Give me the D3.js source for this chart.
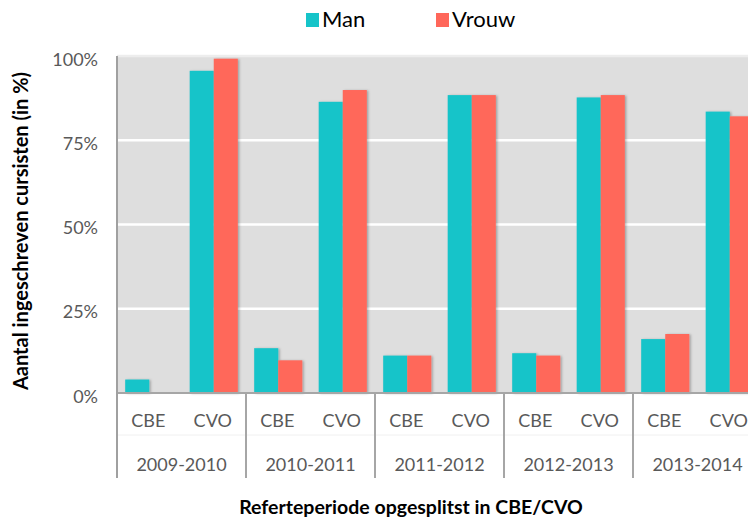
<!DOCTYPE html>
<html><head><meta charset="utf-8">
<script src="https://cdn.jsdelivr.net/npm/d3@7"></script>
<style>body{margin:0;background:#fff}svg{display:block}</style>
</head><body>
<svg id="c" width="748" height="523"></svg>
<script>
const periods = ["2009-2010","2010-2011","2011-2012","2012-2013","2013-2014"];
const types = ["CBE","CVO"];
const seriesNames = ["Man","Vrouw"];
// values in %, order: period x type
const manValues   = [4, 95.6, 13.3, 86.4, 11.1, 88.4, 11.8, 87.7, 16.0, 83.5];
const vrouwValues = [0, 99.2, 9.7, 89.9, 11.1, 88.4, 11.1, 88.4, 17.5, 82.1];
const yTicks = [0, 25, 50, 75, 100];
const colors = ["#16C4C9", "#FF675A"];

(function(){
const svg = d3.select("#c");
const font = "Lato, 'Open Sans', sans-serif";
const pLeft = 117, pRight = 762, pTop = 56, pBottom = 393;
const labelBottom = 478;

const defs = svg.append("defs");
const f = defs.append("filter").attr("id","sh").attr("x","-20%").attr("y","-20%").attr("width","150%").attr("height","150%");
f.append("feDropShadow").attr("dx",1.5).attr("dy",0.5).attr("stdDeviation",1.2).attr("flood-color","#000").attr("flood-opacity",0.28);

const y = d3.scaleLinear().domain([0,100]).range([pBottom, pTop]);
const x0 = d3.scaleBand().domain(periods).range([pLeft, pRight]).padding(0);
const x1 = d3.scaleBand().domain(types).range([0, x0.bandwidth()]).padding(0);
const x2 = d3.scaleBand().domain(seriesNames).range([0, x1.bandwidth()]).paddingInner(0).paddingOuter(0.34);

svg.append("rect").attr("x", pLeft).attr("y", pTop).attr("width", pRight-pLeft).attr("height", pBottom-pTop).attr("fill", "#DEDEDE");

svg.append("g").selectAll("line").data(yTicks.filter(d=>d>0)).join("line")
  .attr("x1", pLeft).attr("x2", pRight).attr("y1", d=>y(d)).attr("y2", d=>y(d))
  .attr("stroke", d => d===100 ? "#EDEDED" : "#FFFFFF").attr("stroke-width", 2.5);

const data = [];
periods.forEach((p,i)=>types.forEach((t,j)=>{
  data.push({p,t,s:"Man",v:manValues[i*2+j]});
  data.push({p,t,s:"Vrouw",v:vrouwValues[i*2+j]});
}));
svg.append("g").attr("filter","url(#sh)").selectAll("rect").data(data.filter(d=>d.v>0)).join("rect")
  .attr("x", d=>x0(d.p)+x1(d.t)+x2(d.s))
  .attr("width", x2.bandwidth())
  .attr("y", d=>y(d.v))
  .attr("height", d=>pBottom-y(d.v))
  .attr("fill", d=>colors[seriesNames.indexOf(d.s)]);

const yAxis = d3.axisLeft(y).tickValues(yTicks).tickFormat(d=>d+"%").tickSize(0).tickPadding(19);
const ga = svg.append("g").attr("transform",`translate(${pLeft},0)`).call(yAxis);
ga.select(".domain").remove();
ga.selectAll("text").attr("font-family",font).attr("font-size",18).attr("fill","#595959").attr("dy","0.5em");

svg.append("line").attr("x1",pLeft).attr("x2",pRight).attr("y1",435).attr("y2",435).attr("stroke","#F0F0F0").attr("stroke-width",1);

svg.append("line").attr("x1",pLeft).attr("x2",pRight).attr("y1",pBottom).attr("y2",pBottom).attr("stroke","#A6A6A6").attr("stroke-width",2);
svg.append("line").attr("x1",pLeft).attr("x2",pLeft).attr("y1",pTop).attr("y2",labelBottom).attr("stroke","#A0A0A0").attr("stroke-width",2);
svg.append("g").selectAll("line").data(periods.slice(1)).join("line")
  .attr("x1",d=>x0(d)).attr("x2",d=>x0(d)).attr("y1",pBottom).attr("y2",labelBottom)
  .attr("stroke","#A6A6A6").attr("stroke-width",2);

const catLabels = [];
periods.forEach(p=>types.forEach(t=>catLabels.push({p,t})));
svg.append("g").selectAll("text").data(catLabels).join("text")
  .attr("x", d=>x0(d.p)+x1(d.t)+x1.bandwidth()/2 - 1).attr("y", 427)
  .attr("text-anchor","middle").attr("font-family",font).attr("font-size",18).attr("fill","#595959")
  .text(d=>d.t);
svg.append("g").selectAll("text").data(periods).join("text")
  .attr("x", d=>x0(d)+x0.bandwidth()/2).attr("y", 471)
  .attr("text-anchor","middle").attr("font-family",font).attr("font-size",18).attr("fill","#595959")
  .text(d=>d);

svg.append("text").attr("x", 411).attr("y", 514).attr("text-anchor","middle")
  .attr("font-family",font).attr("font-weight","bold").attr("font-size",19.5).attr("fill","#000")
  .text("Referteperiode opgesplitst in CBE/CVO");
svg.append("text").attr("transform","translate(28,231) rotate(-90)").attr("text-anchor","middle")
  .attr("font-family",font).attr("font-weight","bold").attr("font-size",20).attr("fill","#000")
  .text("Aantal ingeschreven cursisten (in %)");

const legX = [306, 436];
const lg = svg.append("g").selectAll("g").data(seriesNames).join("g")
  .attr("transform",(d,i)=>`translate(${legX[i]},13)`);
lg.append("rect").attr("width",13).attr("height",14).attr("fill",(d,i)=>colors[i]);
lg.append("text").attr("x",16).attr("y",14).attr("font-family",font).attr("font-size",22).attr("fill","#000").text(d=>d);
})();
</script>
</body></html>
